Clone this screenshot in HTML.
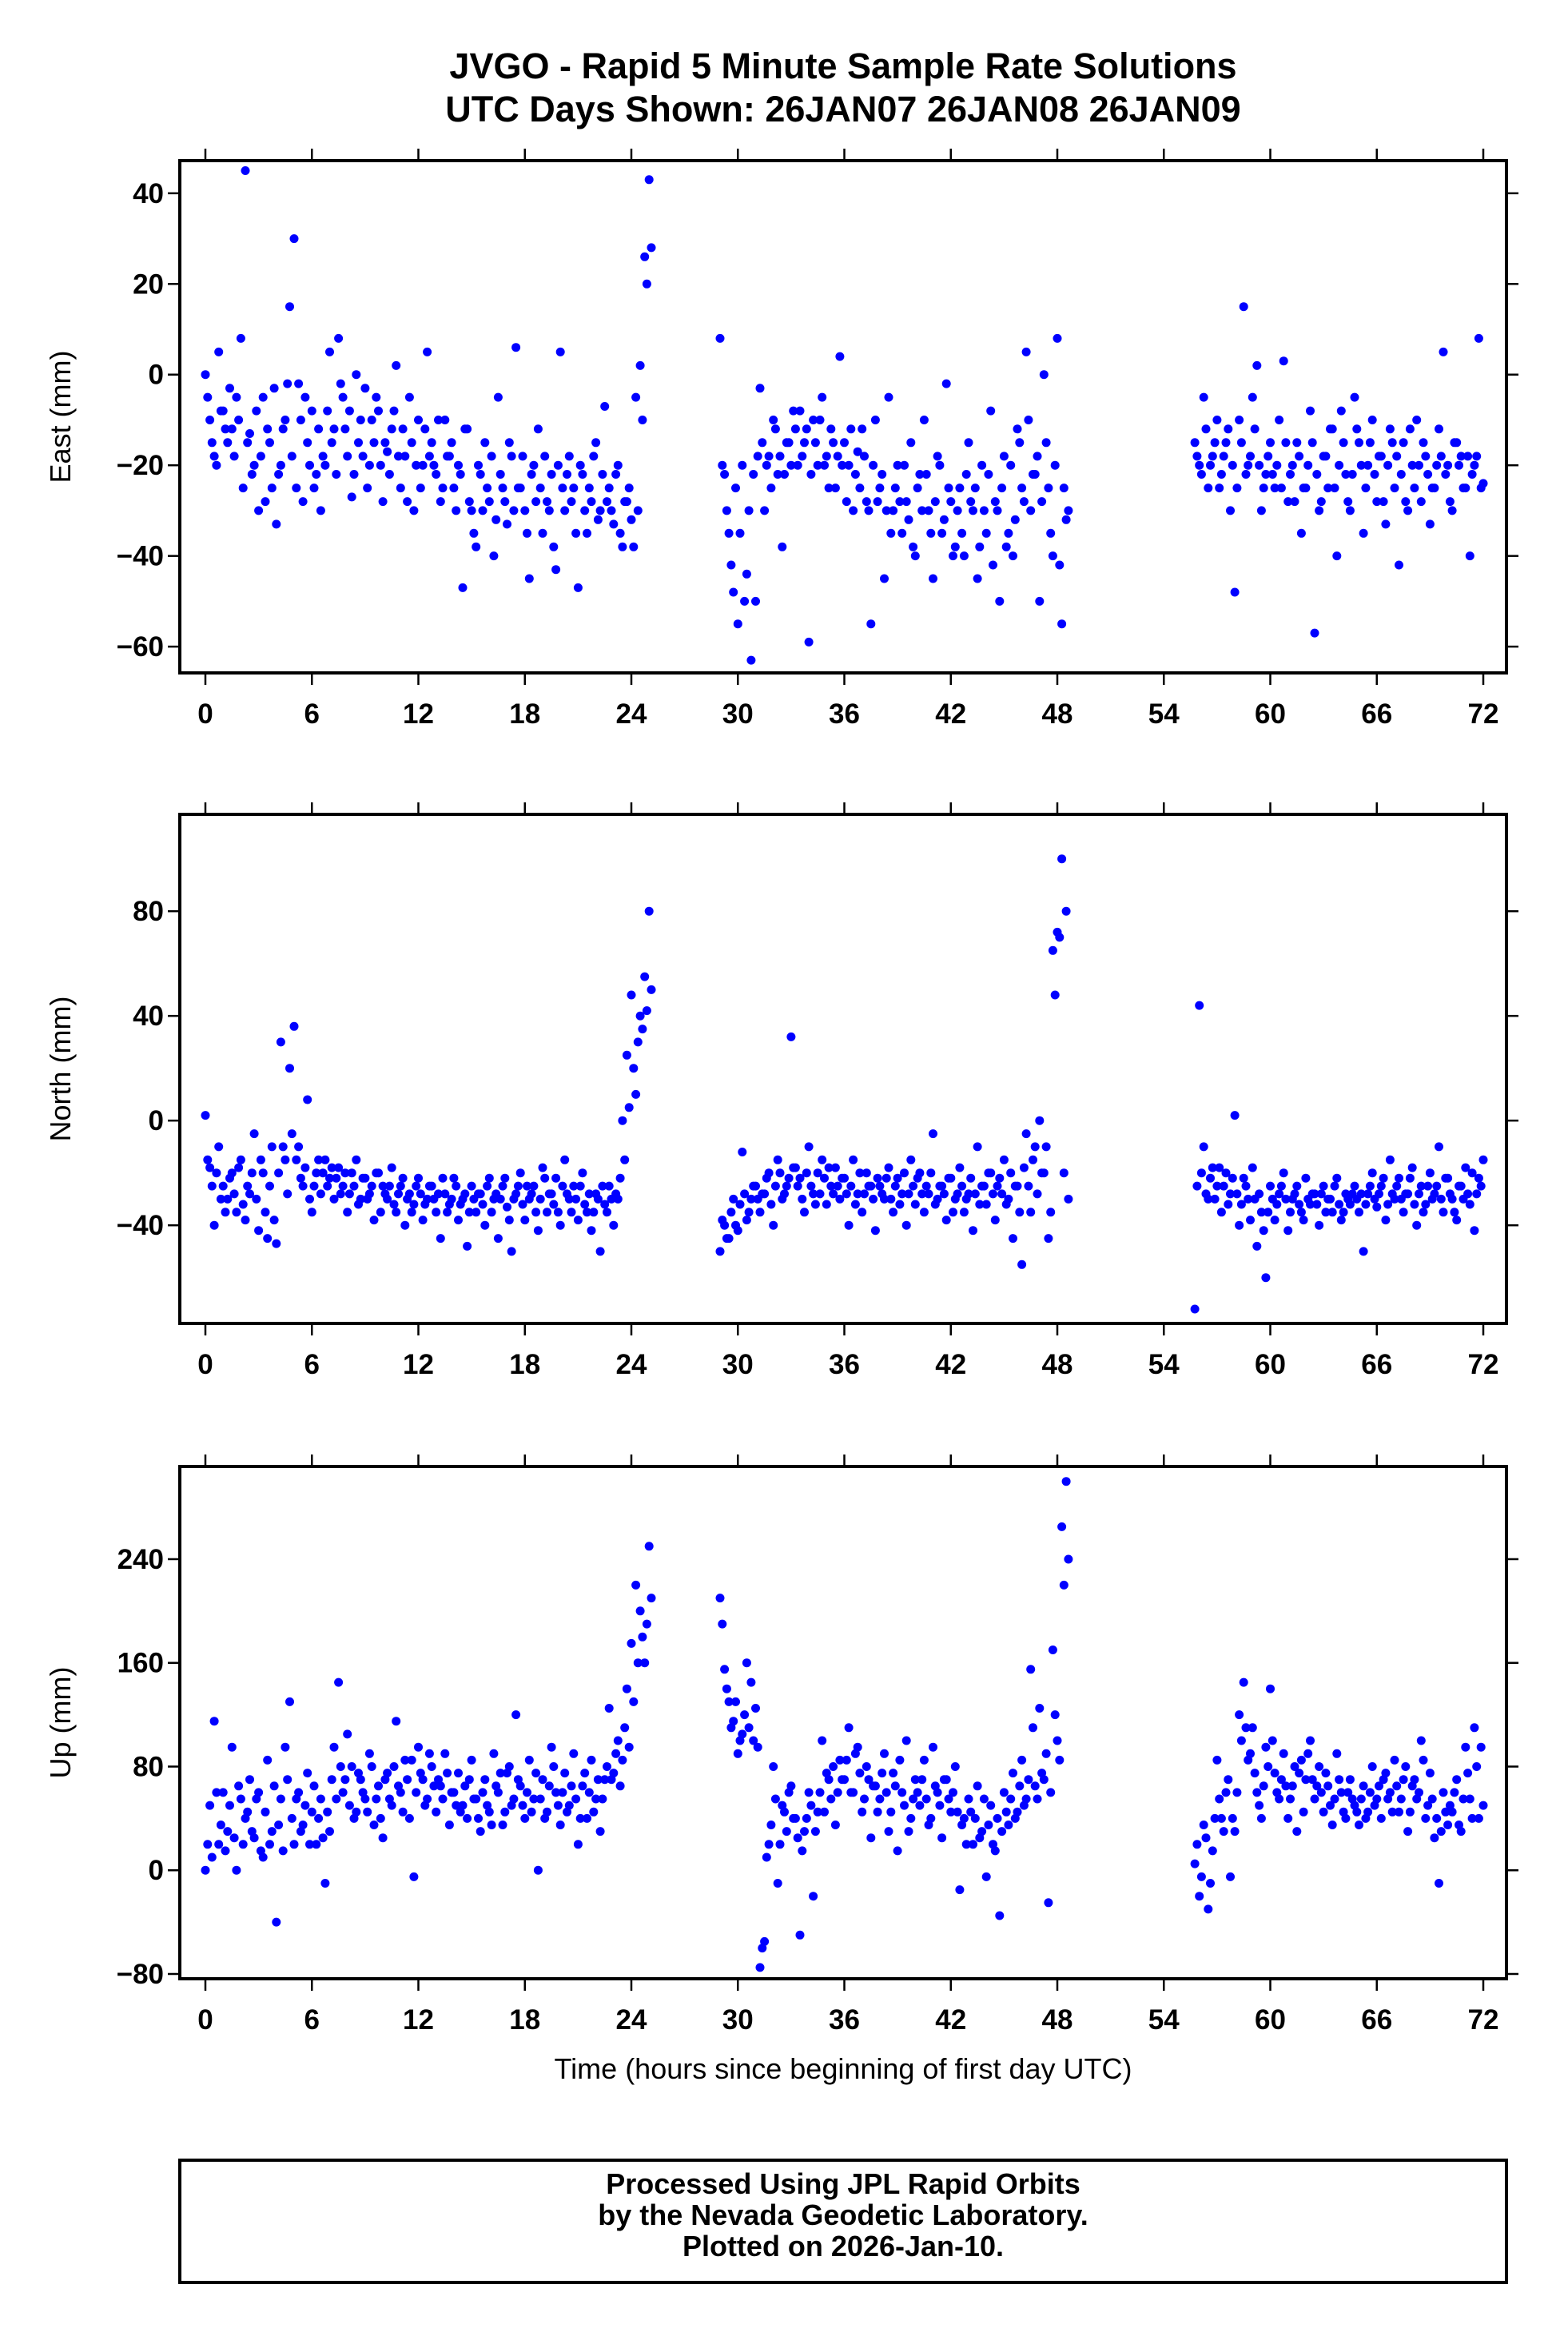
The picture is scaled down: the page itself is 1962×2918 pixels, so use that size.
<!DOCTYPE html>
<html><head><meta charset="utf-8"><style>
html,body{margin:0;padding:0;background:#fff;}
svg{display:block;font-family:"Liberation Sans",Arial,sans-serif;}
</style></head><body>
<svg id="chart" width="1962" height="2918" viewBox="0 0 1962 2918" xmlns="http://www.w3.org/2000/svg">
<rect width="1962" height="2918" fill="#fff"/>
<text x="1055" y="98" font-size="45" font-weight="bold" text-anchor="middle">JVGO - Rapid 5 Minute Sample Rate Solutions</text>
<text x="1055" y="152" font-size="45" font-weight="bold" text-anchor="middle">UTC Days Shown:  26JAN07 26JAN08 26JAN09</text>
<text x="1055" y="2601" font-size="36" text-anchor="middle">Time (hours since beginning of first day UTC)</text>
<rect x="225" y="2703" width="1660" height="153" fill="none" stroke="#000" stroke-width="4"/>
<text x="1055" y="2745" font-size="36" font-weight="bold" text-anchor="middle">Processed Using JPL Rapid Orbits</text>
<text x="1055" y="2784" font-size="36" font-weight="bold" text-anchor="middle">by the Nevada Geodetic Laboratory.</text>
<text x="1055" y="2823" font-size="36" font-weight="bold" text-anchor="middle">Plotted on 2026-Jan-10.</text>
</svg>
<script>
// segment sample definitions: start hour, step 0.25h (second sample set offset by 0.125h)
const segStarts = [0, 29, 55.75];
const segCounts = [101, 79, 66];
const xTicks = [0,6,12,18,24,30,36,42,48,54,60,66,72];

const eastVals = [
0,-10,-18,5,-8,-15,-12,-5,8,45,-13,
-20,-30,-5,-12,-25,-33,-20,-10,15,30,
-2,-28,-15,-8,-22,-30,-20,5,-12,8,
-5,-18,-27,0,-10,-3,-20,-15,-8,-28,
-17,-12,2,-25,-18,-5,-30,-10,-20,5,
-15,-22,-28,-10,-18,-25,-20,-47,-12,-30,
-38,-22,-15,-28,-40,-5,-25,-33,-18,6,
-25,-30,-45,-20,-12,-35,-28,-22,-43,5,
-30,-18,-25,-47,-22,-35,-28,-15,-30,-7,
-25,-33,-20,-38,-28,-32,-5,2,26,43,
8,-22,-35,-48,-55,-20,-44,-63,-50,
-3,-30,-18,-10,-22,-38,-15,-20,-12,
-8,-15,-59,-10,-20,-5,-18,-12,-25,
4,-15,-20,-30,-17,-12,-28,-55,-10,
-25,-45,-5,-30,-20,-35,-28,-15,-40,
-22,-10,-30,-45,-18,-35,-2,-28,-38,
-25,-40,-15,-30,-45,-20,-35,-8,-28,
-50,-18,-35,-40,-12,-25,5,-30,-22,
-50,0,-25,-40,8,-55,-32,
-15,-20,-5,-25,-18,-10,-22,-15,-30,
-48,-10,15,-20,-5,2,-30,-22,-15,
-25,-10,3,-28,-20,-15,-35,-25,-8,
-57,-30,-18,-25,-12,-40,-8,-22,-30,
-5,-15,-35,-20,-10,-28,-18,-33,-12,
-25,-42,-15,-30,-20,-10,-28,-18,-33,
-25,-12,5,-20,-30,-15,-18,-25,-40,
-20,8,-24];
const eastVals2 = [
-5,-15,-20,-8,-12,-3,-18,-10,-25,-15,-22,
-8,-18,-28,-15,-3,-22,-12,-2,-18,-25,
-10,-5,-20,-25,-12,-18,-8,-15,-22,-2,
-12,-8,-22,-15,-18,-25,-10,-5,-20,-15,
-22,-8,-18,-12,-28,-15,-20,-25,-12,-18,
-20,-10,-25,-18,-15,-30,-22,-12,-28,-35,
-20,-30,-25,-18,-32,-22,-28,-15,-30,-25,
-18,-35,-22,-28,-25,-18,-30,-38,-20,-25,
-22,-28,-35,-20,-30,-25,-18,-32,-22,-28,
-30,-22,-35,-28,-25,-38,-30,-10,20,28,
-20,-30,-42,-25,-35,-50,-30,-22,-18,
-15,-20,-25,-12,-18,-22,-15,-8,-20,
-18,-12,-22,-15,-10,-20,-25,-15,-18,
-20,-28,-12,-22,-25,-18,-30,-20,-28,
-22,-30,-35,-25,-28,-20,-32,-38,-25,
-30,-22,-35,-28,-20,-32,-25,-40,-30,
-35,-22,-28,-25,-38,-30,-22,-42,-30,
-25,-38,-20,-32,-15,-28,-10,-22,-18,
-28,-15,-35,-20,-42,-25,-30,
-18,-22,-12,-20,-15,-25,-18,-12,-20,
-25,-15,-22,-18,-12,-20,-25,-18,-22,
-20,-25,-15,-22,-28,-18,-25,-20,-15,
-22,-28,-18,-12,-25,-20,-15,-28,-22,
-12,-20,-25,-15,-22,-18,-28,-20,-15,
-18,-22,-28,-12,-25,-20,-15,-22,-25,
-20,-18,-22,-28,-15,-20,-25,-18,-22,
-18,-25,-15];
const northVals = [
2,-18,-40,-10,-25,-30,-20,-35,-15,-38,-28,
-5,-42,-20,-45,-10,-47,30,-15,20,36,
-10,-25,8,-35,-20,-28,-15,-22,-30,-18,
-25,-35,-20,-15,-30,-22,-28,-38,-20,-25,
-30,-18,-35,-25,-40,-28,-32,-22,-38,-30,
-25,-35,-45,-28,-32,-22,-38,-30,-48,-25,
-35,-28,-40,-22,-30,-45,-25,-33,-50,-28,
-20,-38,-30,-25,-42,-18,-35,-28,-22,-40,
-15,-30,-25,-38,-20,-35,-42,-28,-50,-32,
-25,-40,-30,0,25,48,10,40,55,80,
-50,-40,-45,-30,-42,-12,-38,-30,-25,
-35,-28,-20,-40,-15,-30,-25,32,-18,
-22,-35,-10,-28,-20,-15,-32,-25,-18,
-30,-22,-40,-15,-28,-35,-20,-25,-42,
-25,-30,-18,-35,-22,-28,-40,-15,-32,
-20,-35,-28,-5,-30,-25,-38,-22,-30,
-18,-35,-28,-42,-10,-25,-32,-20,-38,
-22,-15,-30,-45,-25,-55,-5,-35,-10,
0,-20,-45,65,72,100,80,
-72,44,-10,-30,-18,-25,-35,-20,-28,
2,-40,-22,-30,-18,-48,-35,-60,-25,
-38,-28,-20,-42,-30,-25,-35,-22,-32,
-28,-40,-25,-30,-35,-22,-38,-28,-32,
-25,-35,-50,-28,-20,-33,-25,-38,-15,
-30,-22,-35,-28,-18,-40,-25,-32,-20,
-28,-10,-35,-22,-30,-38,-25,-18,-32,
-42,-22,-15];
const northVals2 = [
-15,-25,-20,-30,-35,-22,-28,-18,-32,-25,-20,
-30,-15,-35,-25,-38,-20,-10,-28,-5,-15,
-22,-18,-30,-25,-15,-20,-25,-18,-22,-28,
-20,-28,-25,-32,-22,-30,-25,-20,-35,-28,
-25,-32,-28,-22,-30,-35,-25,-28,-32,-25,
-30,-28,-22,-35,-30,-25,-32,-28,-35,-30,
-28,-32,-25,-35,-28,-30,-22,-38,-30,-25,
-32,-25,-28,-35,-30,-22,-28,-32,-35,-25,
-28,-35,-30,-25,-32,-28,-35,-30,-25,-35,
-30,-28,-22,-15,5,20,30,35,42,50,
-38,-45,-35,-40,-32,-28,-35,-25,-30,
-28,-22,-32,-25,-20,-28,-22,-18,-25,
-30,-20,-25,-32,-28,-22,-18,-28,-25,
-22,-28,-25,-32,-20,-28,-25,-30,-22,
-28,-22,-30,-25,-32,-20,-28,-25,-22,
-28,-25,-20,-32,-25,-28,-22,-35,-28,
-25,-30,-22,-28,-32,-25,-20,-28,-25,
-28,-32,-20,-25,-35,-18,-25,-15,-28,
-20,-10,-35,48,70,-20,-30,
-25,-20,-28,-22,-30,-18,-25,-32,-22,
-28,-32,-25,-38,-30,-28,-42,-35,-30,
-32,-25,-30,-35,-28,-32,-38,-30,-28,
-32,-28,-35,-30,-25,-32,-35,-30,-28,
-30,-28,-32,-25,-30,-28,-22,-32,-28,
-25,-30,-28,-22,-32,-28,-35,-25,-30,
-25,-30,-22,-28,-35,-25,-30,-28,-20,
-28,-25,-20];
const upVals = [
0,50,115,20,60,30,95,0,55,40,70,
25,60,10,85,30,-40,55,95,130,20,
60,35,75,45,20,55,-10,30,95,145,
60,105,80,45,70,55,90,35,65,25,
75,50,115,60,85,40,-5,95,70,55,
80,45,65,90,35,60,75,50,40,85,
55,30,70,45,90,60,35,75,50,120,
65,40,85,55,0,70,45,95,60,35,
75,50,90,20,65,40,85,55,30,70,
125,75,100,85,140,175,220,200,160,250,
210,155,130,115,90,105,160,145,125,
-75,-55,20,80,-10,50,30,65,40,
-50,30,60,-20,45,100,75,55,35,
85,70,110,60,95,45,80,25,65,
55,90,30,75,15,60,100,40,70,
50,85,35,95,60,25,70,45,80,
-15,40,55,20,65,30,-5,50,15,
-35,60,35,75,45,85,55,155,65,
125,70,-25,170,100,265,300,
5,-20,35,-30,15,85,40,60,-5,
30,120,145,85,110,60,40,95,140,
75,55,90,40,65,30,85,70,100,
55,80,45,65,35,90,60,40,70,
50,35,65,45,80,55,40,75,60,
85,45,70,30,65,55,100,40,75,
25,-10,60,35,45,70,30,95,55,
110,40,50];
const upVals2 = [
20,10,60,35,15,50,25,65,20,45,30,
55,15,45,20,65,35,15,70,40,55,
30,50,20,65,40,25,45,70,55,80,
70,50,40,75,60,45,80,55,40,70,
55,80,65,45,70,85,60,75,50,90,
65,70,55,75,60,50,45,65,70,55,
40,60,50,35,65,75,45,80,55,70,
50,60,45,75,55,40,65,80,50,60,
45,65,55,40,75,60,45,70,55,80,
70,90,65,110,95,130,160,180,190,210,
190,140,110,130,100,120,110,100,95,
-60,10,35,55,20,45,60,40,25,
15,40,50,30,60,45,70,80,60,
70,85,60,90,75,55,70,65,45,
75,60,45,65,85,50,30,55,60,
70,55,40,65,50,70,55,60,45,
35,20,45,40,25,55,35,20,40,
30,45,55,40,65,50,70,110,55,
75,90,60,120,85,220,240,
20,-5,25,-10,40,55,30,70,40,
60,100,110,90,75,50,65,80,100,
60,70,65,55,80,75,45,90,70,
65,60,75,50,55,70,45,60,55,
45,55,40,60,50,65,70,55,45,
65,55,80,45,70,60,85,50,55,
40,30,45,50,60,35,55,75,40,
80,95,40];
const eastTicks = [40,20,0,-20,-40,-60];
const northTicks = [80,40,0,-40];
const upTicks = [240,160,80,0,-80];

const NS='http://www.w3.org/2000/svg';
const svg=document.getElementById('chart');
function mk(tag,attrs,parent){const e=document.createElementNS(NS,tag);for(const k in attrs)e.setAttribute(k,attrs[k]);(parent||svg).appendChild(e);return e;}
const X0=225,X1=1885;
function xScale(t){return 257+t*(1599/72);}
const times=[];
segStarts.forEach((s,i)=>{for(let j=0;j<segCounts[i];j++)times.push(s+j*0.25);});

function panel(name,title,vals,vals2,ticks,y0,y1,vTop,vBot){
  const g=mk('g',{});
  
  
  const ys=v=>y0+(vTop-v)/(vTop-vBot)*(y1-y0);
  const pts=mk('g',{fill:'#0000ff'},g);
  
  
  vals.forEach((v,i)=>{
    const c=mk('circle',{cx:xScale(times[i]).toFixed(1),cy:ys(v).toFixed(1),r:5.5},pts);
    
    
  });
  vals2.forEach((v,i)=>{
    const t=times[i]+0.125;
    if(t>72)return;
    const c=mk('circle',{cx:xScale(t).toFixed(1),cy:ys(v).toFixed(1),r:5.5},pts);
    
    
  });
  const fr=mk('rect',{x:X0,y:y0,width:X1-X0,height:y1-y0,fill:'none',stroke:'#000','stroke-width':4},g);
  
  
  xTicks.forEach(t=>{
    const x=xScale(t);
    mk('line',{x1:x,x2:x,y1:y1,y2:y1+15,stroke:'#000','stroke-width':2.5},g);
    mk('line',{x1:x,x2:x,y1:y0,y2:y0-15,stroke:'#000','stroke-width':2.5},g);
    const lb=mk('text',{x:x,y:y1+63,'font-size':35,'font-weight':'bold','text-anchor':'middle'},g);
    lb.textContent=String(t);
    
    
  });
  ticks.forEach(v=>{
    const y=ys(v);
    mk('line',{x1:X0-15,x2:X0,y1:y,y2:y,stroke:'#000','stroke-width':2.5},g);
    mk('line',{x1:X1,x2:X1+15,y1:y,y2:y,stroke:'#000','stroke-width':2.5},g);
    const lb=mk('text',{x:205,y:y+12,'font-size':35,'font-weight':'bold','text-anchor':'end'},g);
    lb.textContent=v<0?'\u2212'+Math.abs(v):String(v);
    
    
  });
  const cy=(y0+y1)/2;
  const yt=mk('text',{x:88,y:cy,'font-size':36,'text-anchor':'middle',transform:'rotate(-90 88 '+cy+')'},g);
  yt.textContent=title;
  
  
}
panel('east','East (mm)',eastVals,eastVals2,eastTicks,201,842,47.2,-65.8);
panel('north','North (mm)',northVals,northVals2,northTicks,1019,1656,117,-77.5);
panel('up','Up (mm)',upVals,upVals2,upTicks,1835,2476,311.5,-83.7);
</script>
</body></html>
